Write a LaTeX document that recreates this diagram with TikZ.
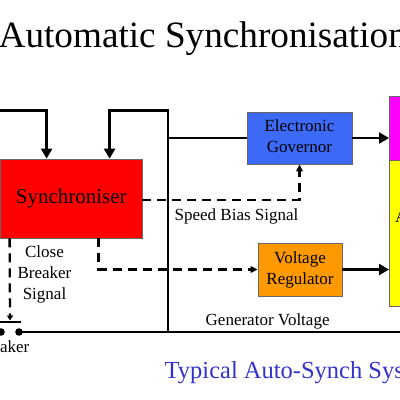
\documentclass[tikz,border=0pt]{standalone}
\usepackage{fontspec}
\setmainfont{Liberation Serif}
\usetikzlibrary{arrows.meta,calc}
\definecolor{govblue}{RGB}{60,105,245}
\definecolor{vrorange}{RGB}{255,153,0}
\definecolor{subblue}{RGB}{51,51,204}
\definecolor{magbox}{RGB}{255,0,255}
\definecolor{yelbox}{RGB}{255,255,0}
\definecolor{redbox}{RGB}{255,0,0}
\newcommand{\mylines}[2][c]{\begin{tabular}[#1]{@{}c@{}}#2\end{tabular}}
\begin{document}
\begin{tikzpicture}[x=1pt,y=-1pt,
  box/.style={draw=black!60, line width=0.8pt, inner sep=0pt, align=center, font=\fontsize{17}{21}\selectfont},
  lbl/.style={inner sep=0pt, font=\fontsize{17}{21}\selectfont},
  thickline/.style={line width=2.8pt},
  solidarrow/.style={line width=2.8pt, -{Triangle[length=10pt,width=11pt]}},
  dasharrow/.style={line width=2.3pt, dash pattern=on 9pt off 6pt, -{Triangle[length=7pt,width=6.5pt]}}]
\useasboundingbox (0,0) rectangle (400,400);
\clip (0,0) rectangle (400,400);

% title
\node[anchor=base west, inner sep=0pt, font=\fontsize{37.2}{44}\selectfont] (title) at (-1.5,47) {Automatic Synchronisation};

% boxes
\node[box, fill=redbox, minimum width=141.5pt, minimum height=79pt, font=\fontsize{21}{25}\selectfont] (sync) at (71.25,198.5) {Synchroniser};
\node[box, fill=govblue, minimum width=105pt, minimum height=52pt] (gov) at (299.5,138) {\mylines{Electronic\\Governor}};
\node[box, fill=vrorange, minimum width=84pt, minimum height=53pt] (vreg) at (300,269.5) {\mylines{Voltage\\Regulator}};
\node[box, fill=magbox, minimum width=40pt, minimum height=64pt, anchor=north west] (mag) at (389,96) {};
\node[box, fill=yelbox, minimum width=40pt, minimum height=146pt, anchor=north west] (yel) at (389,160) {};
\node[lbl, anchor=base west] (alt) at (395,222) {A};

% coordinates
\coordinate (in1) at (-5,110.5);
\coordinate (top2) at (168,110.5);
\coordinate (jb) at (168,332);
\coordinate (cbl) at (1,332);
\coordinate (cbr) at (19,332);
\coordinate (busend) at (405,332);
\coordinate (barl) at (-5,322);
\coordinate (barr) at (21,322);
\coordinate (cbin) at (10,320.5);

% connectors
\draw[solidarrow] (in1) -| ([xshift=46.5pt]sync.north west);
\draw[solidarrow] (jb) -- (top2) -| ([xshift=109.5pt]sync.north west);
\draw[thickline] (gov.west -| jb) -- (gov.west);
\draw[solidarrow] (gov.east) -- (gov.east -| mag.west);
\draw[solidarrow] (vreg.east) -- (vreg.east -| yel.west);
\draw[dasharrow] ([yshift=-1.5pt]sync.east) -| (gov.south);
\draw[dasharrow] ([xshift=98.5pt]sync.south west) |- (vreg.west);
\draw[line width=2.3pt, dash pattern=on 9pt off 6pt, -{Triangle[length=5pt,width=6pt]}] ([xshift=9.5pt]sync.south west) -- (cbin);

% breaker and bus
\draw[thickline] (barl) -- (barr);
\draw[thickline] (cbr) -- (busend);
\fill (cbl) circle (3.8pt);
\fill (cbr) circle (3.8pt);

% labels
\node[lbl, anchor=base west] (sbs) at (174.5,220) {Speed Bias Signal};
\node[lbl, anchor=base] (cbs) at (44.5,257.5) {\mylines[t]{Close\\Breaker\\Signal}};
\node[lbl, anchor=base east] (brk) at (29.5,352) {Breaker};
\node[lbl, anchor=base west] (gv) at (205.5,325.5) {Generator Voltage};
\node[anchor=base west, inner sep=0pt, text=subblue, font=\fontsize{24.5}{29}\selectfont] (sub) at (164.5,378) {Typical Auto-Synch System};
\end{tikzpicture}
\end{document}
